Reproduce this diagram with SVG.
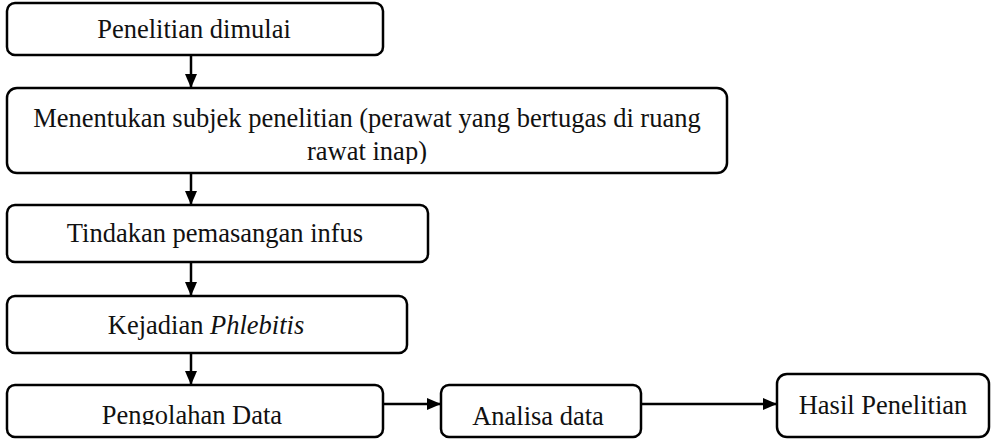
<svg xmlns="http://www.w3.org/2000/svg" width="1000" height="440" viewBox="0 0 1000 440">
<style>
.box{fill:#fff;stroke:#000;stroke-width:2.5}
.t{font-family:"Liberation Serif","Times New Roman",serif;font-size:26.5px;fill:#111;text-anchor:middle}
.c{stroke:#000;stroke-width:2.5;fill:none}
</style>
<defs>
<marker id="ah" viewBox="0 0 14 12" refX="13" refY="6" markerWidth="14" markerHeight="12" markerUnits="userSpaceOnUse" orient="auto">
<path d="M0,0 L14,6 L0,12 Z" fill="#000"/>
</marker>
<clipPath id="c2"><rect x="7" y="88" width="720" height="76"/></clipPath>
<clipPath id="c5"><rect x="7" y="385" width="376" height="40"/></clipPath>
</defs>
<g id="connectors">
<line class="c" x1="191" y1="55" x2="191" y2="87" marker-end="url(#ah)"/>
<line class="c" x1="191" y1="173" x2="191" y2="204" marker-end="url(#ah)"/>
<line class="c" x1="191" y1="262" x2="191" y2="295" marker-end="url(#ah)"/>
<line class="c" x1="191" y1="353" x2="191" y2="384" marker-end="url(#ah)"/>
<line class="c" x1="383" y1="404" x2="440" y2="404" marker-end="url(#ah)"/>
<line class="c" x1="641" y1="404" x2="776" y2="404" marker-end="url(#ah)"/>
</g>
<g id="n1"><rect class="box" x="7" y="3" width="376" height="52" rx="8"/><text class="t" x="194" y="38">Penelitian dimulai</text></g>
<g id="n2"><rect class="box" x="7" y="88" width="720" height="85" rx="10"/><g clip-path="url(#c2)"><text class="t" x="367" y="127">Menentukan subjek penelitian (perawat yang bertugas di ruang</text><text class="t" x="367" y="160">rawat inap)</text></g></g>
<g id="n3"><rect class="box" x="7" y="205" width="421" height="57" rx="8"/><text class="t" x="215" y="242">Tindakan pemasangan infus</text></g>
<g id="n4"><rect class="box" x="7" y="296" width="400" height="57" rx="8"/><text class="t" x="206" y="334">Kejadian <tspan font-style="italic">Phlebitis</tspan></text></g>
<g id="n5"><rect class="box" x="7" y="385" width="376" height="52" rx="8"/><g clip-path="url(#c5)"><text class="t" x="192" y="424">Pengolahan Data</text></g></g>
<g id="n6"><rect class="box" x="441" y="385" width="200" height="52" rx="8"/><text class="t" x="538" y="425">Analisa data</text></g>
<g id="n7"><rect class="box" x="777" y="374" width="212" height="63" rx="10"/><text class="t" x="883" y="414">Hasil Penelitian</text></g>
</svg>
